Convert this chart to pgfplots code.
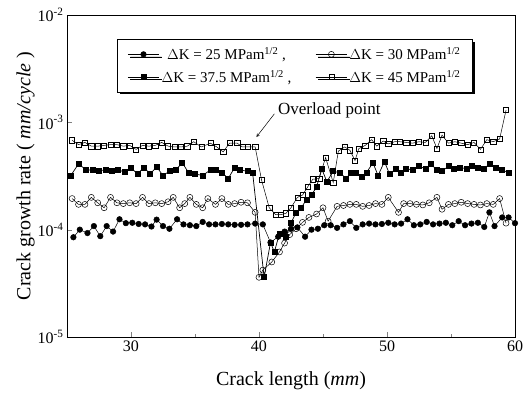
\documentclass[border=0pt]{standalone}
\usepackage{pgfplots}
\pgfplotsset{compat=1.18}
\usepackage{fontspec}
\setmainfont{Liberation Serif}
\usetikzlibrary{shadows}
\begin{document}
\begin{tikzpicture}
\path[use as bounding box] (-67pt,-59pt) rectangle (464pt,337pt);
\begin{axis}[
  scale only axis,
  width=448pt, height=322pt,
  xmin=25, xmax=60,
  ymode=log, log basis y=10,
  ymin=1e-5, ymax=1e-2,
  xtick={30,40,50,60},
  minor xtick={35,45,55},
  ytick={1e-5,1e-4,1e-3,1e-2},
  yticklabels={10\textsuperscript{-5},10\textsuperscript{-4},10\textsuperscript{-3},10\textsuperscript{-2}},
  xtick pos=bottom, ytick pos=left,
  tick align=inside,
  major tick length=5pt, minor tick length=3pt,
  axis line style={line width=0.9pt},
  /pgf/number format/assume math mode=true,
  tick label style={font=\fontsize{16}{16}\selectfont},
  xlabel={Crack length (\textit{mm})},
  ylabel={Crack growth rate ( \textit{mm/cycle} )},
  label style={font=\fontsize{20}{20}\selectfont},
  xlabel style={yshift=-13pt},
  ylabel style={yshift=-4pt},
  legend columns=2,
  legend style={at={(0.112,0.925)}, anchor=north west, draw=black, line width=0.7pt,
    font=\fontsize{15}{15}\selectfont, fill=white,
    drop shadow={shadow xshift=2.5pt, shadow yshift=-2.5pt, fill=black, opacity=1},
    /tikz/every even column/.append style={column sep=22pt},
    row sep=5pt, inner xsep=10pt, inner ysep=6pt},
  legend image code/.code={\draw[mark repeat=2,mark phase=2,#1] plot coordinates {(0cm,0cm) (0.55cm,0cm) (1.1cm,0cm)};},
]
% Delta K = 25 (filled circles)
\addplot[black, line width=0.5pt, mark=*, mark size=2.8pt] coordinates {
(25.5,8.5e-5)(26.0,1.0e-4)(26.6,9.3e-5)(27.1,1.08e-4)(27.6,8.7e-5)(28.1,1.08e-4)(28.6,9.6e-5)(29.1,1.25e-4)(29.6,1.15e-4)(30.1,1.16e-4)(30.6,1.13e-4)(31.1,1.12e-4)(31.6,1.07e-4)(32.0,1.24e-4)(32.5,1.08e-4)(33.0,1.02e-4)(33.6,1.25e-4)(34.1,1.12e-4)(34.6,1.1e-4)(35.1,1.08e-4)(35.6,1.18e-4)(36.1,1.12e-4)(36.6,1.12e-4)(37.1,1.13e-4)(37.6,1.12e-4)(38.1,1.11e-4)(38.6,1.11e-4)(39.1,1.12e-4)(39.7,1.14e-4)
(40.3,1.12e-4)(40.9,7.6e-5)(41.5,8.6e-5)(42.0,9.6e-5)(42.5,1.02e-4)(43.0,1.05e-4)(43.6,8.6e-5)(44.1,1.0e-4)(44.6,1.02e-4)(45.1,1.1e-4)(45.6,1.1e-4)(46.1,1.04e-4)(46.6,1.12e-4)(47.1,1.2e-4)(47.6,1.04e-4)(48.1,1.12e-4)(48.6,1.14e-4)(49.1,1.12e-4)(49.6,1.13e-4)(50.1,1.16e-4)(50.6,1.12e-4)(51.1,1.14e-4)(51.6,1.25e-4)(52.1,1.1e-4)(52.6,1.12e-4)(53.1,1.18e-4)(53.6,1.12e-4)(54.1,1.14e-4)(54.6,1.16e-4)(55.1,1.1e-4)(55.6,1.2e-4)(56.1,1.1e-4)(56.6,1.14e-4)(57.1,1.16e-4)(57.6,1.06e-4)(58.0,1.45e-4)(58.4,1.08e-4)(59.0,1.3e-4)(59.5,1.3e-4)(60.0,1.15e-4)
};
\addlegendentry{$\Delta$K = 25 MPam\textsuperscript{1/2} ,}
% Delta K = 30 (open circles)
\addplot[black, line width=0.5pt, mark=o, mark size=3.0pt, mark options={fill=white}] coordinates {
(25.4,1.95e-4)(25.9,1.72e-4)(26.4,1.72e-4)(26.9,2.0e-4)(27.4,1.78e-4)(27.9,1.6e-4)(28.4,2.0e-4)(28.9,1.78e-4)(29.4,1.75e-4)(29.9,1.78e-4)(30.4,1.75e-4)(30.9,2.0e-4)(31.4,1.75e-4)(31.9,1.78e-4)(32.4,1.75e-4)(32.9,1.82e-4)(33.3,2.0e-4)(33.8,1.6e-4)(34.2,1.75e-4)(34.6,2.0e-4)(35.1,1.72e-4)(35.6,1.6e-4)(36.0,1.95e-4)(36.6,1.72e-4)(37.1,1.95e-4)(37.6,1.72e-4)(38.1,1.75e-4)(38.6,1.8e-4)(39.1,1.78e-4)(39.7,1.45e-4)
(40.0,3.6e-5)(40.3,4.2e-5)(41.0,5.0e-5)(41.6,6.2e-5)(42.0,7.5e-5)(42.4,9.0e-5)(42.9,1.02e-4)(43.4,1.17e-4)(43.9,1.3e-4)(44.5,1.4e-4)(45.0,1.6e-4)(45.4,1.2e-4)(46.1,1.65e-4)(46.6,1.68e-4)(47.1,1.72e-4)(47.6,1.72e-4)(48.1,1.65e-4)(48.6,1.68e-4)(49.1,1.75e-4)(49.6,1.72e-4)(50.1,2.0e-4)(50.9,1.45e-4)(51.3,1.75e-4)(51.8,1.75e-4)(52.3,1.72e-4)(52.8,1.7e-4)(53.3,1.78e-4)(53.9,2.0e-4)(54.3,1.55e-4)(54.8,1.72e-4)(55.3,1.75e-4)(55.8,1.8e-4)(56.3,1.75e-4)(56.8,1.72e-4)(57.3,1.7e-4)(57.8,1.75e-4)(58.3,1.72e-4)(58.8,1.95e-4)(59.3,1.15e-4)
};
\addlegendentry{$\Delta$K = 30 MPam\textsuperscript{1/2}}
% Delta K = 37.5 (filled squares)
\addplot[black, line width=0.7pt, mark=square*, mark size=2.5pt] coordinates {
(25.3,3.2e-4)(25.9,4.1e-4)(26.5,3.6e-4)(27.0,3.6e-4)(27.5,3.55e-4)(28.0,3.6e-4)(28.5,3.55e-4)(29.0,3.6e-4)(29.5,3.45e-4)(30.0,3.8e-4)(30.5,3.3e-4)(31.0,3.8e-4)(31.5,3.3e-4)(32.0,3.85e-4)(32.5,3.2e-4)(33.0,3.5e-4)(33.5,3.6e-4)(34.0,4.2e-4)(34.5,3.4e-4)(35.0,3.3e-4)(35.6,3.2e-4)(36.2,3.6e-4)(36.6,3.6e-4)(37.1,3.4e-4)(37.6,3.0e-4)(38.1,3.8e-4)(38.5,3.6e-4)(39.1,3.5e-4)(39.5,3.4e-4)
(40.4,3.6e-5)(40.9,7.6e-5)(41.2,6.2e-5)(41.6,9.2e-5)(42.1,8.5e-5)(42.5,1.15e-4)(42.9,1.45e-4)(43.3,1.6e-4)(43.7,1.9e-4)(44.1,2.1e-4)(44.5,2.5e-4)(44.9,3.7e-4)(45.3,2.8e-4)(45.8,3.5e-4)(46.3,3.4e-4)(46.8,3.0e-4)(47.2,3.4e-4)(47.6,3.4e-4)(48.0,3.1e-4)(48.4,3.4e-4)(48.9,4.2e-4)(49.3,3.2e-4)(49.8,4.3e-4)(50.2,3.3e-4)(50.7,3.7e-4)(51.1,3.4e-4)(51.5,3.7e-4)(52.0,3.6e-4)(52.5,3.9e-4)(53.0,3.7e-4)(53.4,4.1e-4)(53.9,3.6e-4)(54.3,3.5e-4)(54.8,3.9e-4)(55.2,3.7e-4)(55.7,3.8e-4)(56.2,3.7e-4)(56.6,3.9e-4)(57.1,3.8e-4)(57.6,3.7e-4)(58.0,4.1e-4)(58.5,3.8e-4)(59.0,3.6e-4)(59.5,3.4e-4)
};
\addlegendentry{$\Delta$K = 37.5 MPam\textsuperscript{1/2} ,}
% Delta K = 45 (open squares)
\addplot[black, line width=0.5pt, mark=square, mark size=2.6pt, mark options={fill=white}] coordinates {
(25.4,6.8e-4)(25.9,6.2e-4)(26.4,6.5e-4)(26.9,6.0e-4)(27.4,6.0e-4)(27.9,6.1e-4)(28.4,6.2e-4)(28.9,6.2e-4)(29.4,6.0e-4)(29.9,6.1e-4)(30.4,5.6e-4)(30.9,6.1e-4)(31.4,6.0e-4)(31.9,6.1e-4)(32.4,6.5e-4)(32.9,6.0e-4)(33.4,5.9e-4)(33.9,5.9e-4)(34.4,6.0e-4)(34.9,6.6e-4)(35.5,5.9e-4)(36.2,6.4e-4)(36.7,5.9e-4)(37.2,5.3e-4)(37.7,6.4e-4)(38.3,6.4e-4)(38.7,5.9e-4)(39.1,5.9e-4)(39.7,5.9e-4)
(40.2,2.9e-4)(40.8,1.6e-4)(41.3,1.38e-4)(41.7,1.38e-4)(42.1,1.42e-4)(42.5,1.6e-4)(43.0,2.0e-4)(43.4,2.1e-4)(43.8,2.5e-4)(44.2,2.95e-4)(44.7,3.0e-4)(45.2,4.7e-4)(45.8,2.75e-4)(46.2,5.4e-4)(46.7,5.9e-4)(47.1,5.5e-4)(47.5,4.4e-4)(47.8,5.7e-4)(48.3,6.1e-4)(48.8,6.9e-4)(49.2,6.0e-4)(49.7,6.7e-4)(50.1,6.3e-4)(50.6,6.6e-4)(51.0,6.6e-4)(51.5,6.5e-4)(52.0,6.4e-4)(52.5,6.6e-4)(53.0,6.5e-4)(53.5,7.5e-4)(53.9,5.7e-4)(54.3,7.6e-4)(54.8,6.4e-4)(55.3,6.6e-4)(55.8,6.4e-4)(56.3,6.2e-4)(56.8,6.5e-4)(57.3,5.6e-4)(57.8,6.9e-4)(58.3,6.6e-4)(58.8,7.0e-4)(59.3,1.3e-3)
};
\addlegendentry{$\Delta$K = 45 MPam\textsuperscript{1/2}}
\node[anchor=west, font=\fontsize{17}{17}\selectfont, inner sep=1pt] at (axis cs:41.4,1.28e-3) {Overload point};
\draw[-stealth, line width=0.5pt] (axis cs:41.2,1.2e-3) -- (axis cs:39.8,7.3e-4);
\end{axis}
\end{tikzpicture}
\end{document}
